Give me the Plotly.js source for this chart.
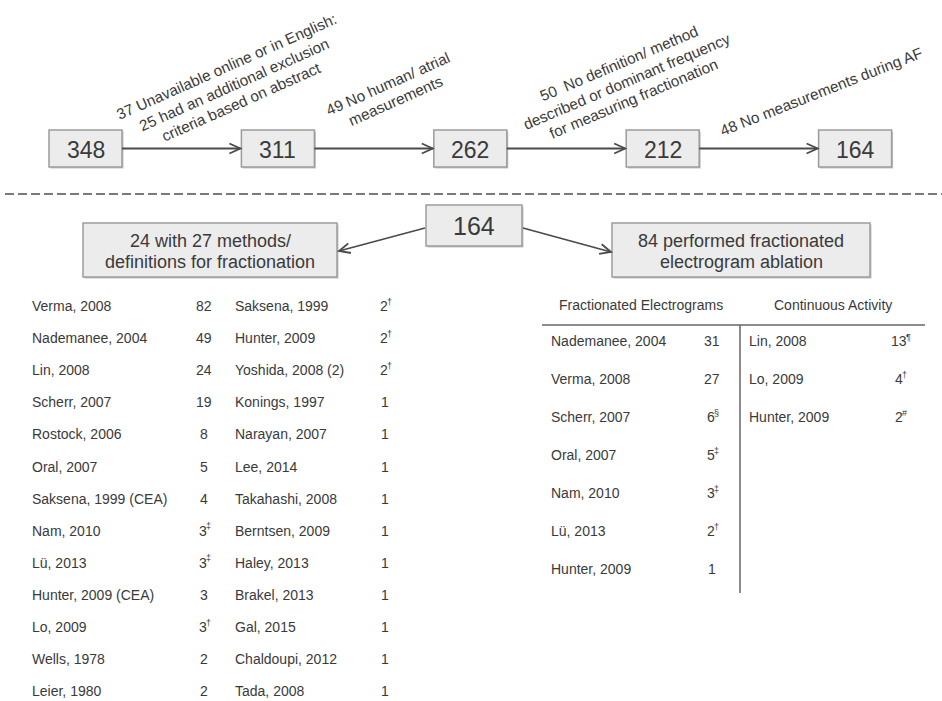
<!DOCTYPE html>
<html>
<head>
<meta charset="utf-8">
<script src="https://cdn.plot.ly/plotly-3.0.1.min.js"></script>
<style>html,body{margin:0;padding:0;background:#fff;}#chart{width:942px;height:701px;}</style>
</head>
<body>
<div id="chart"></div>
<script>
// ---------- DATA ----------
const flowCounts = [348, 311, 262, 212, 164];
const exclusionNotes = [
  ["37 Unavailable online or in English:", "25 had an additional exclusion", "criteria based on abstract"],
  ["49 No human/ atrial", "measurements"],
  ["50  No definition/ method", "described or dominant frequency", "for measuring fractionation"],
  ["48 No measurements during AF"]
];
const includedTotal = 164;
const branchLabels = [
  ["24 with 27 methods/", "definitions for fractionation"],
  ["84 performed fractionated", "electrogram ablation"]
];
const methodStudies = [
  "Verma, 2008", "Nademanee, 2004", "Lin, 2008", "Scherr, 2007", "Rostock, 2006", "Oral, 2007",
  "Saksena, 1999 (CEA)", "Nam, 2010", "Lü, 2013", "Hunter, 2009 (CEA)", "Lo, 2009", "Wells, 1978", "Leier, 1980",
  "Saksena, 1999", "Hunter, 2009", "Yoshida, 2008 (2)", "Konings, 1997", "Narayan, 2007", "Lee, 2014",
  "Takahashi, 2008", "Berntsen, 2009", "Haley, 2013", "Brakel, 2013", "Gal, 2015", "Chaldoupi, 2012", "Tada, 2008"
];
const methodCounts = [82, 49, 24, 19, 8, 5, 4, 3, 3, 3, 3, 2, 2, 2, 2, 2, 1, 1, 1, 1, 1, 1, 1, 1, 1, 1];
const methodMarks = ["", "", "", "", "", "", "", "‡", "‡", "", "†", "", "",
                     "†", "†", "†", "", "", "", "", "", "", "", "", "", ""];
const ablationHeaders = ["Fractionated Electrograms", "Continuous Activity"];
const feStudies = ["Nademanee, 2004", "Verma, 2008", "Scherr, 2007", "Oral, 2007", "Nam, 2010", "Lü, 2013", "Hunter, 2009"];
const feCounts = [31, 27, 6, 5, 3, 2, 1];
const feMarks = ["", "", "§", "‡", "‡", "†", ""];
const caStudies = ["Lin, 2008", "Lo, 2009", "Hunter, 2009"];
const caCounts = [13, 4, 2];
const caMarks = ["¶", "†", "#"];

// ---------- LAYOUT HELPERS ----------
const FONT = '"Liberation Sans", Arial, sans-serif';
const TXT = '#3a3a3a';
const LINE = '#4a4a4a';
const shapes = [];
const annotations = [];

function box(x0, y0, x1, y1) {
  shapes.push({type: 'rect', xref: 'x', yref: 'y', x0: x0 + 1.5, y0: y0 + 1.5, x1: x1 + 1.5, y1: y1 + 1.5,
    fillcolor: '#c4c4c4', line: {width: 0}, layer: 'below'});
  shapes.push({type: 'rect', xref: 'x', yref: 'y', x0: x0, y0: y0, x1: x1, y1: y1,
    fillcolor: '#ececec', line: {color: '#9c9c9c', width: 1.5}, layer: 'below'});
}
function arrow(x0, y0, x1, y1) {
  shapes.push({type: 'line', xref: 'x', yref: 'y', x0: x0, y0: y0, x1: x1, y1: y1,
    line: {color: LINE, width: 1.8}});
  const L = Math.hypot(x1 - x0, y1 - y0), dx = (x1 - x0) / L, dy = (y1 - y0) / L;
  const h = 11, w = 5;
  const p1 = [x1 - h * dx - w * dy, y1 - h * dy + w * dx];
  const p2 = [x1 - h * dx + w * dy, y1 - h * dy - w * dx];
  shapes.push({type: 'path', xref: 'x', yref: 'y',
    path: `M ${p1[0]} ${p1[1]} L ${x1} ${y1} L ${p2[0]} ${p2[1]}`,
    line: {color: LINE, width: 1.8}});
}
function text(x, y, t, size, opts) {
  annotations.push(Object.assign({xref: 'x', yref: 'y', x: x, y: y, text: t, showarrow: false,
    xanchor: 'center', yanchor: 'middle', borderpad: 0,
    font: {family: FONT, size: size, color: TXT}}, opts || {}));
}

// ---------- TOP FLOW ----------
const flowX0 = 85.5, flowStep = 192.4, flowY = 148.5, bw = 73, bh = 37;
flowCounts.forEach((c, i) => {
  const cx = flowX0 + i * flowStep;
  box(cx - bw / 2, flowY - bh / 2, cx + bw / 2, flowY + bh / 2);
  text(cx, flowY + 1, String(c), 23);
  if (i > 0) arrow(cx - flowStep + bw / 2, flowY, cx - bw / 2 - 1, flowY);
});

const noteCenters = [[234, 84], [392, 92], [626, 81], [821, 91]];
const noteAngles = [24, 24, 23, 21.5];
exclusionNotes.forEach((lines, i) => {
  const a = noteAngles[i] * Math.PI / 180, n = lines.length, sp = 19;
  lines.forEach((ln, k) => {
    const off = (k - (n - 1) / 2) * sp;
    text(noteCenters[i][0] + off * Math.sin(a), noteCenters[i][1] + off * Math.cos(a), ln, 15.3,
      {textangle: -noteAngles[i]});
  });
});

// dashed separator
shapes.push({type: 'line', xref: 'x', yref: 'y', x0: 5, y0: 194, x1: 942, y1: 194,
  line: {color: '#7a7a7a', width: 2, dash: '9px,4px'}});

// ---------- SPLIT ----------
box(426, 205, 522, 246);
text(474, 226, String(includedTotal), 25);
const branchBoxes = [[83, 223, 337, 277], [612, 223, 870, 277]];
branchBoxes.forEach((b, i) => {
  box(b[0], b[1], b[2], b[3]);
  const cx = (b[0] + b[2]) / 2;
  text(cx, 241, branchLabels[i][0], 18);
  text(cx, 262, branchLabels[i][1], 18);
});
arrow(425, 228, 339, 251);
arrow(523, 228, 611, 252);

// ---------- TABLES ----------
const DIGIT_W = 14 * 0.556, MARK_W = 5;
function tableCols(names, counts, marks, xName, xCount, y0, step) {
  names.forEach((nm, i) => {
    text(xName, y0 + i * step, nm, 14, {xanchor: 'left'});
  });
  counts.forEach((c, i) => {
    const y = y0 + i * step, s = String(c);
    if (!marks[i]) { text(xCount, y, s, 14); return; }
    const dw = s.length * DIGIT_W, start = xCount - (dw + MARK_W) / 2;
    text(start, y, s, 14, {xanchor: 'left'});
    text(start + dw, y - 4.5, marks[i], 9, {xanchor: 'left'});
  });
}
const half = 13;
tableCols(methodStudies.slice(0, half), methodCounts.slice(0, half), methodMarks.slice(0, half), 31, 204, 306, 32.1);
tableCols(methodStudies.slice(half), methodCounts.slice(half), methodMarks.slice(half), 234, 385, 306, 32.1);

text(641, 305, ablationHeaders[0], 14);
text(833, 305, ablationHeaders[1], 14);
shapes.push({type: 'line', xref: 'x', yref: 'y', x0: 542, y0: 325, x1: 925, y1: 325, line: {color: '#666', width: 1.5}});
shapes.push({type: 'line', xref: 'x', yref: 'y', x0: 740, y0: 325, x1: 740, y1: 593, line: {color: '#666', width: 1.5}});
tableCols(feStudies, feCounts, feMarks, 550, 712, 341, 38);
tableCols(caStudies, caCounts, caMarks, 748, 900, 341, 38);

const layout = {
  width: 942, height: 701,
  margin: {l: 0, r: 0, t: 0, b: 0},
  paper_bgcolor: '#ffffff', plot_bgcolor: '#ffffff',
  xaxis: {range: [0, 942], visible: false, fixedrange: true},
  yaxis: {range: [701, 0], visible: false, fixedrange: true},
  shapes: shapes, annotations: annotations, showlegend: false,
  font: {family: FONT, color: TXT}
};
Plotly.newPlot('chart', [], layout, {displayModeBar: false, staticPlot: true});
</script>
</body>
</html>
